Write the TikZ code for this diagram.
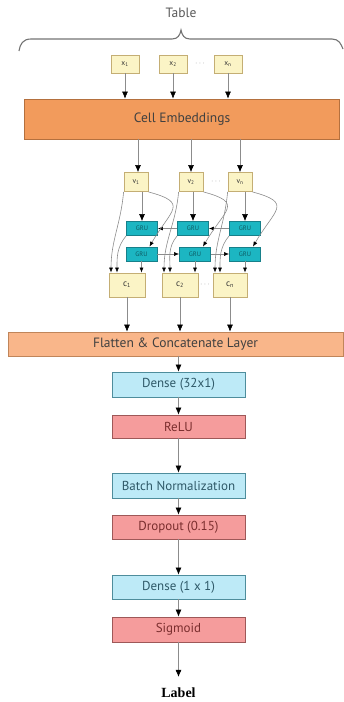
\documentclass[tikz,border=0pt]{standalone}
\usepackage{fontspec}
\setmainfont{PT Sans}
\newfontfamily\labelfont{Liberation Serif}
\usepackage{tikz}
\usetikzlibrary{arrows.meta}
\usetikzlibrary{positioning}
\definecolor{inyellow}{HTML}{FBF4C6}
\definecolor{inborder}{HTML}{C4AE74}
\definecolor{embfill}{HTML}{F29B5C}
\definecolor{embborder}{HTML}{B4703E}
\definecolor{flatfill}{HTML}{F9B68A}
\definecolor{flatborder}{HTML}{C0855A}
\definecolor{densefill}{HTML}{BDEAF7}
\definecolor{denseborder}{HTML}{4E8D9C}
\definecolor{densetext}{HTML}{2F5968}
\definecolor{actfill}{HTML}{F59C9C}
\definecolor{actborder}{HTML}{9E5858}
\definecolor{acttext}{HTML}{7A2E2E}
\definecolor{grufill}{HTML}{1CB6C2}
\definecolor{gruborder}{HTML}{17808A}
\definecolor{grutext}{HTML}{0E5A62}
\definecolor{linegray}{HTML}{8C8C8C}
\tikzset{
	in node/.style={draw=inborder,fill=inyellow,line width=0.8pt,inner sep=0pt,text=black!80,font=\fontsize{7.5}{8}\selectfont},
	gru node/.style={draw=gruborder,fill=grufill,line width=0.8pt,minimum width=31pt,minimum height=14pt,inner sep=0pt,text=grutext,font=\fontsize{6.5}{7}\selectfont},
	wide node/.style={line width=0.8pt,inner sep=0pt,text=black!75,font=\fontsize{13.5}{15}\selectfont},
	layer node/.style={line width=0.8pt,minimum width=133pt,inner sep=0pt,font=\fontsize{13}{15}\selectfont},
	dense node/.style={layer node,draw=denseborder,fill=densefill,text=densetext},
	act node/.style={layer node,draw=actborder,fill=actfill,text=acttext},
	dots node/.style={text=linegray,font=\fontsize{8}{9}\selectfont},
	conn/.style={draw=linegray,line width=0.6pt,->},
	small conn/.style={draw=linegray,line width=0.6pt,-{Latex[length=5pt,width=4pt,color=black]}}
}

\begin{document}
\begin{tikzpicture}[x=1pt,y=1pt,>={Latex[length=7pt,width=6pt,color=black]}]
	\useasboundingbox (0,0) rectangle (344,-702);
	\node [text=black!65,font=\fontsize{13.5}{15}\selectfont] (table) at (181,-13) {Table};
	\draw [black!55,line width=1.1pt] (19,-51) .. controls (20,-44) and (23,-39) .. (31,-39) -- (172,-39) .. controls (178,-39) and (180,-35) .. (181,-30) .. controls (182,-35) and (184,-39) .. (190,-39) -- (332,-39) .. controls (339,-39) and (341,-44) .. (343,-49);
	\node [in node,minimum width=28pt,minimum height=18pt] (x1) at (125,-64) {x\textsubscript{1}};
	\node [in node,minimum width=28pt,minimum height=18pt] (x2) at (173,-64) {x\textsubscript{2}};
	\node [in node,minimum width=28pt,minimum height=18pt] (xn) at (228,-64) {x\textsubscript{n}};
	\node [dots node] (xdots) at (200,-64) {$\cdots$};
	\node [wide node,draw=embborder,fill=embfill,minimum width=315pt,minimum height=40pt] (emb) at (182,-119) {Cell Embeddings};
	\draw [conn] (x1) -- (x1 |- emb.north);
	\draw [conn] (x2) -- (x2 |- emb.north);
	\draw [conn] (xn) -- (xn |- emb.north);
	\node [in node,minimum width=24pt,minimum height=19pt] (v1) at (136,-182) {v\textsubscript{1}};
	\node [in node,minimum width=24pt,minimum height=19pt] (v2) at (191,-182) {v\textsubscript{2}};
	\node [in node,minimum width=24pt,minimum height=19pt] (vn) at (240,-182) {v\textsubscript{n}};
	\node [dots node] (vdots) at (216,-182) {$\cdots$};
	\draw [conn] ([xshift=2pt]v1.north |- emb.south) -- ([xshift=2pt]v1.north);
	\draw [conn] (v2.north |- emb.south) -- (v2.north);
	\draw [conn] (vn.north |- emb.south) -- (vn.north);
	\node [gru node] (gt1) at (142,-228.5) {GRU};
	\node [gru node] (gt2) at (193,-228.5) {GRU};
	\node [gru node] (gtn) at (245,-228.5) {GRU};
	\node [gru node] (gb1) at (141.5,-254) {GRU};
	\node [gru node] (gb2) at (195,-254) {GRU};
	\node [gru node] (gbn) at (245,-254) {GRU};
	\node [in node,minimum width=36pt,minimum height=24pt,font=\fontsize{9}{10}\selectfont] (c1) at (127,-285) {c\textsubscript{1}};
	\node [in node,minimum width=36pt,minimum height=24pt,font=\fontsize{9}{10}\selectfont] (c2) at (180,-285) {c\textsubscript{2}};
	\node [in node,minimum width=34pt,minimum height=24pt,font=\fontsize{9}{10}\selectfont] (cn) at (230,-285) {c\textsubscript{n}};
	\node [dots node] (cdots) at (205,-285) {$\cdots$};
	\draw [conn] (gt1.north |- v1.south) -- (gt1.north);
	\draw [conn] (gt2.north |- v2.south) -- (gt2.north);
	\draw [conn] (gtn.north |- vn.south) -- (gtn.north);
	\draw [small conn] (gt2.west) -- (gt1.east);
	\draw [small conn] (gtn.west) -- (gt2.east);
	\draw [small conn] (gb1.east) -- (gb2.west);
	\draw [small conn] (gb2.east) -- (gbn.west);
	\draw [small conn] (v1.south east) to[out=-15,in=60,looseness=2] ([xshift=8pt]gb1.north);
	\draw [small conn] (v2.south east) to[out=-15,in=60,looseness=2] ([xshift=8pt]gb2.north);
	\draw [small conn] (vn.south east) to[out=-15,in=60,looseness=2] ([xshift=8pt]gbn.north);
	\draw [small conn] (v1.south west) to[out=-95,in=90] ([xshift=-16pt]c1.north);
	\draw [small conn] (v2.south west) to[out=-95,in=90] ([xshift=-16pt]c2.north);
	\draw [small conn] (vn.south west) to[out=-95,in=90] ([xshift=-15pt]cn.north);
	\draw [small conn] (gt1.south west) to[out=-130,in=90] ([xshift=-10pt]c1.north);
	\draw [small conn] (gt2.south west) to[out=-130,in=90] ([xshift=-10pt]c2.north);
	\draw [small conn] (gtn.south west) to[out=-130,in=90] ([xshift=-10pt]cn.north);
	\draw [small conn] (gb1.south) -- (gb1.south |- c1.north);
	\draw [small conn] (gb2.south) -- (gb2.south |- c2.north);
	\draw [small conn] (gbn.south) -- (gbn.south |- cn.north);
	\node [wide node,draw=flatborder,fill=flatfill,minimum width=335pt,minimum height=24pt] (flat) at (175.5,-344) {Flatten \& Concatenate Layer};
	\draw [conn] (c1) -- (c1 |- flat.north);
	\draw [conn] (c2) -- (c2 |- flat.north);
	\draw [conn] (cn) -- (cn |- flat.north);
	\node [dense node,minimum height=25pt] (dense1) at (178.5,-384.5) {Dense (32x1)};
	\node [act node,minimum height=23pt] (relu) at (178.5,-426.5) {ReLU};
	\node [dense node,minimum height=25pt] (bn) at (178.5,-485.5) {Batch Normalization};
	\node [act node,minimum height=24pt] (drop) at (178.5,-527) {Dropout (0.15)};
	\node [dense node,minimum height=24pt] (dense2) at (178.5,-587) {Dense (1 x 1)};
	\node [act node,minimum height=25pt] (sig) at (178.5,-629.5) {Sigmoid};
	\node [inner sep=2pt,font=\labelfont\bfseries\fontsize{14}{16}\selectfont] (label) at (178.5,-693) {Label};
	\draw [conn] (flat.south -| dense1) -- (dense1);
	\draw [conn] (dense1) -- (relu);
	\draw [conn] (relu) -- (bn);
	\draw [conn] (bn) -- (drop);
	\draw [conn] (drop) -- (dense2);
	\draw [conn] (dense2) -- (sig);
	\draw [conn,shorten >=9pt] (sig) -- (label.north);
\end{tikzpicture}
\end{document}
